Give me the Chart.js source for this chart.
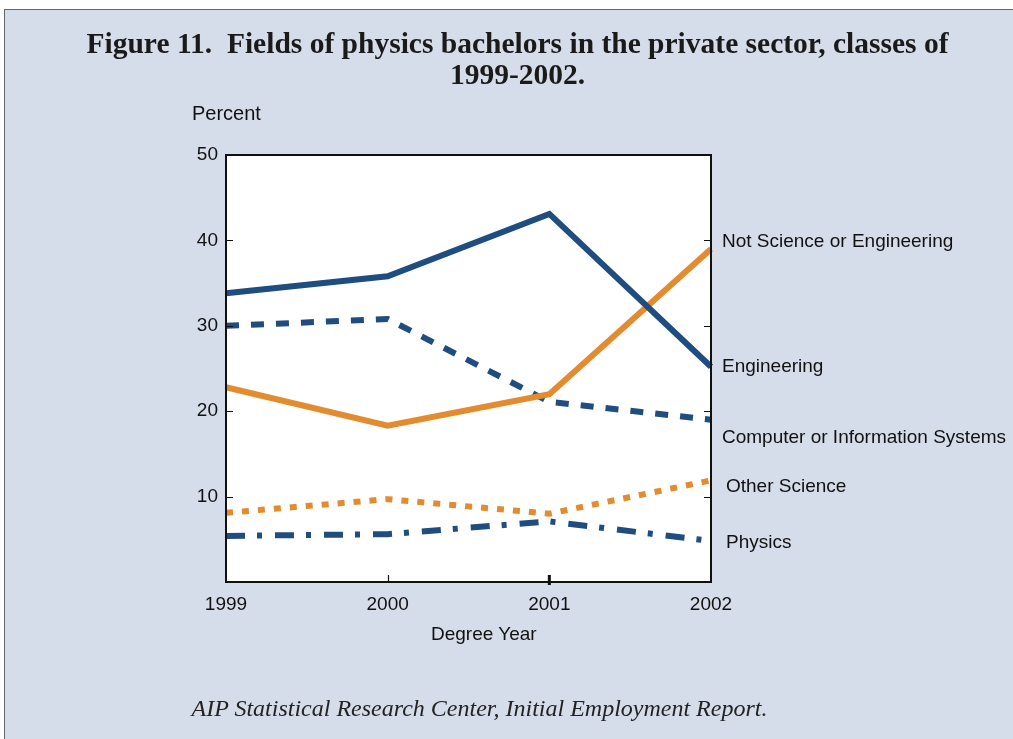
<!DOCTYPE html>
<html>
<head>
<meta charset="utf-8">
<script src="https://cdn.jsdelivr.net/npm/chart.js@4.4.0/dist/chart.umd.min.js"></script>
<style>
  body { margin: 0; background: #fff; width: 1013px; height: 739px; overflow: hidden; position: relative; }
  #frame { position: absolute; left: 4px; top: 9px; width: 1020px; height: 740px;
           background: rgb(214, 221, 234); border-left: 1.5px solid #666; border-top: 1.5px solid #666; }
  #myChart { position: absolute; left: 0; top: 0; }
  .txt { position: absolute; font-family: "Liberation Sans", Arial, sans-serif; font-size: 19px; color: #111; white-space: nowrap; }
  #title { position: absolute; left: 0; width: 1035px; top: 28px; text-align: center;
           font-family: "Liberation Serif", "Times New Roman", serif; font-weight: bold; font-size: 29.5px; line-height: 31px; color: #1a1a1a; }
  #caption { position: absolute; left: 0; width: 959px; top: 695px; text-align: center;
             font-family: "Liberation Serif", "Times New Roman", serif; font-style: italic; font-size: 24px; color: #222; }
</style>
</head>
<body>
<div id="frame"></div>
<canvas id="myChart" width="1013" height="739"></canvas>
<div id="title">Figure 11.&nbsp; Fields of physics bachelors in the private sector, classes of<br>1999-2002.</div>
<div class="txt" style="left:192px; top:102px; font-size:20px;">Percent</div>
<div class="txt" style="left:431px; top:623px;">Degree Year</div>
<div class="txt" style="left:722px; top:230px;">Not Science or Engineering</div>
<div class="txt" style="left:722px; top:355px;">Engineering</div>
<div class="txt" style="left:722px; top:426px;">Computer or Information Systems</div>
<div class="txt" style="left:726px; top:475px;">Other Science</div>
<div class="txt" style="left:726px; top:531px;">Physics</div>
<div id="caption">AIP Statistical Research Center, Initial Employment Report.</div>
<script>
  var years = ["1999", "2000", "2001", "2002"];
  var engineering = [33.8, 35.8, 43.1, 25.2];
  var computerInfo = [30.0, 30.8, 21.1, 19.0];
  var notScience = [22.8, 18.3, 22.0, 39.0];
  var otherScience = [8.1, 9.7, 8.0, 11.9];
  var physics = [5.4, 5.6, 7.1, 4.8];
  var yTicks = [10, 20, 30, 40];

  var blue = "rgb(31, 77, 127)";
  var orange = "rgb(227, 139, 47)";

  function line(label, data, color, dash) {
    return {
      label: label,
      data: data,
      borderColor: color,
      borderWidth: 6,
      borderDash: dash,
      borderCapStyle: "butt",
      borderJoinStyle: "miter",
      pointRadius: 0,
      tension: 0,
      fill: false,
    };
  }

  // white plot area + box + inward ticks
  var frameBox = {
    id: "frameBox",
    beforeDatasetsDraw: function (chart) {
      var a = chart.chartArea;
      var ctx = chart.ctx;
      ctx.save();
      ctx.fillStyle = "#fff";
      ctx.fillRect(a.left, a.top, a.right - a.left, a.bottom - a.top);
      ctx.restore();
    },
    afterDatasetsDraw: function (chart) {
      var a = chart.chartArea;
      var ctx = chart.ctx;
      var ys = chart.scales.y;
      var xs = chart.scales.x;
      ctx.save();
      ctx.strokeStyle = "#111";
      ctx.lineWidth = 2;
      ctx.strokeRect(a.left, a.top, a.right - a.left, a.bottom - a.top);
      ctx.lineWidth = 1.2;
      ctx.beginPath();
      yTicks.forEach(function (v) {
        var py = Math.round(ys.getPixelForValue(v)) + 0.5;
        ctx.moveTo(a.left, py);
        ctx.lineTo(a.left + 7, py);
        ctx.moveTo(a.right, py);
        ctx.lineTo(a.right - 7, py);
      });
      var px = Math.round(xs.getPixelForValue(1)) + 0.5;
      ctx.moveTo(px, a.bottom);
      ctx.lineTo(px, a.bottom - 7);
      ctx.stroke();
      ctx.lineWidth = 3;
      ctx.beginPath();
      px = xs.getPixelForValue(2);
      ctx.moveTo(px, a.bottom + 3);
      ctx.lineTo(px, a.bottom - 7);
      ctx.stroke();
      ctx.restore();
    },
  };

  var ctx = document.getElementById("myChart").getContext("2d");
  var chart = new Chart(ctx, {
    type: "line",
    data: {
      labels: years,
      datasets: [
        line("Engineering", engineering, blue, []),
        line("Not Science or Engineering", notScience, orange, []),
        line("Computer or Information Systems", computerInfo, blue, [13, 12]),
        line("Other Science", otherScience, orange, [7, 9]),
        line("Physics", physics, blue, [19, 12, 5, 13]),
      ],
    },
    options: {
      responsive: false,
      animation: false,
      layout: { padding: { left: 0, top: 155, right: 302, bottom: 0 } },
      plugins: { legend: { display: false }, tooltip: { enabled: false }, title: { display: false } },
      scales: {
        x: {
          offset: false,
          grid: { display: false, drawTicks: false },
          border: { display: false },
          ticks: { color: "#111", padding: 11, maxRotation: 0, font: { family: "Liberation Sans", size: 19 } },
          afterFit: function (s) { s.height = 157; },
        },
        y: {
          min: 0,
          max: 50,
          grid: { display: false, drawTicks: false },
          border: { display: false },
          ticks: {
            stepSize: 10,
            color: "#111",
            padding: 8,
            font: { family: "Liberation Sans", size: 19 },
            callback: function (v) { return v === 0 ? "" : v; },
          },
          afterFit: function (s) { s.width = 226; },
        },
      },
    },
    plugins: [frameBox],
  });
</script>
</body>
</html>
